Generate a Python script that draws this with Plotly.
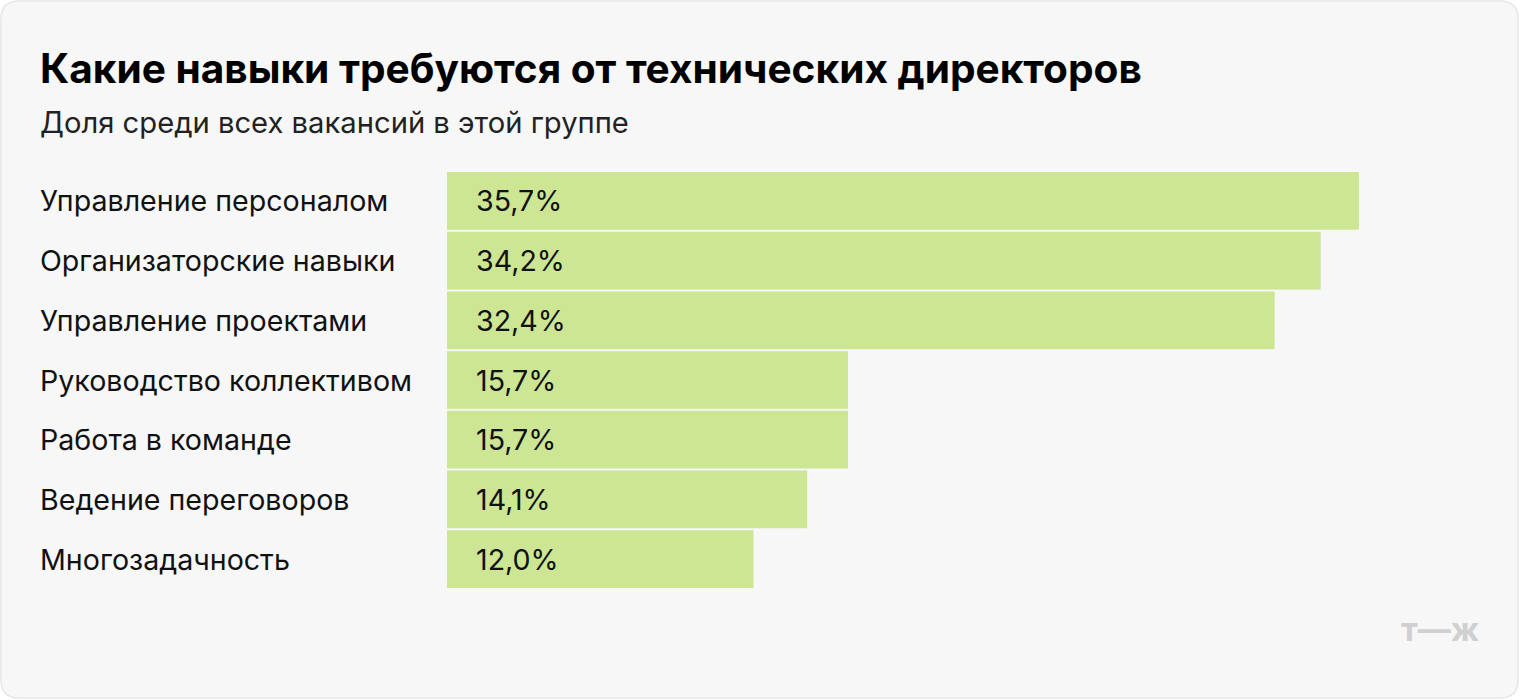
import plotly.graph_objects as go

# data
skills = ["Управление персоналом", "Организаторские навыки", "Управление проектами",
          "Руководство коллективом", "Работа в команде", "Ведение переговоров", "Многозадачность"]
shares = [35.7, 34.2, 32.4, 15.7, 15.7, 14.1, 12.0]
share_labels = ["35,7%", "34,2%", "32,4%", "15,7%", "15,7%", "14,1%", "12,0%"]

W, H = 1520, 700
L, R, T, B = 447, 41, 171, 111
font = "Inter, Roboto, sans-serif"

fig = go.Figure(go.Bar(
    x=shares, y=skills, orientation="h",
    marker=dict(color="#cce694", line=dict(width=0)),
    hoverinfo="skip",
))

ann = []
for s, v, lab in zip(skills, shares, share_labels):
    # category label on the left
    ann.append(dict(x=(38 - L) / (W - L - R), xref="paper", y=s, yref="y",
                    text=s, showarrow=False, xanchor="left",
                    font=dict(size=28.6, color="#111", family=font)))
    # value inside bar
    ann.append(dict(x=0, xref="x", y=s, yref="y", text=lab, showarrow=False,
                    xanchor="left", xshift=27,
                    font=dict(size=28.6, color="#111", family=font)))

ann.append(dict(x=38 / W, y=1 - 68 / H, xref="paper", yref="paper", text="<b>Какие навыки требуются от технических директоров</b>",
                showarrow=False, xanchor="left", yanchor="middle",
                font=dict(size=40.6, color="#000", family=font)))
ann.append(dict(x=38 / W, y=1 - 122 / H, xref="paper", yref="paper", text="Доля среди всех вакансий в этой группе",
                showarrow=False, xanchor="left", yanchor="middle",
                font=dict(size=29.2, color="#222", family=font)))
ann.append(dict(x=1481 / W, y=1 - 629 / H, xref="paper", yref="paper", text="<b>т—ж</b>",
                showarrow=False, xanchor="right", yanchor="middle",
                font=dict(size=33, color="#d0d0d0", family=font)))
for a in ann[-3:]:
    # convert full-canvas fractions to paper coordinates
    px = a["x"] * W
    py = (1 - a["y"]) * H
    a["x"] = (px - L) / (W - L - R)
    a["y"] = (H - B - py) / (H - T - B)

fig.update_layout(
    width=W, height=H,
    margin=dict(l=L, r=R, t=T, b=B),
    paper_bgcolor="white", plot_bgcolor="rgba(0,0,0,0)",
    bargap=0.034,
    showlegend=False,
    annotations=ann,
    xaxis=dict(range=[0, 40.4], visible=False, fixedrange=True),
    yaxis=dict(autorange="reversed", visible=False, fixedrange=True),
    shapes=[dict(type="path", xref="paper", yref="paper", layer="below",
                 path=None, fillcolor="#f7f7f7", line=dict(color="#e6e6e6", width=1.5))],
)

# rounded card behind everything, in paper coords
def P(x, y):
    return f"{(x - L) / (W - L - R):.5f},{(H - B - y) / (H - T - B):.5f}"

r = 18
x0, y0, x1, y1 = 1, 1, W - 2, H - 2
path = (f"M {P(x0 + r, y0)} L {P(x1 - r, y0)} Q {P(x1, y0)} {P(x1, y0 + r)} "
        f"L {P(x1, y1 - r)} Q {P(x1, y1)} {P(x1 - r, y1)} L {P(x0 + r, y1)} "
        f"Q {P(x0, y1)} {P(x0, y1 - r)} L {P(x0, y0 + r)} Q {P(x0, y0)} {P(x0 + r, y0)} Z")
fig.layout.shapes[0].path = path

fig.write_html("out.html", config={"displayModeBar": False},
               post_script="document.body.style.margin='0';")
